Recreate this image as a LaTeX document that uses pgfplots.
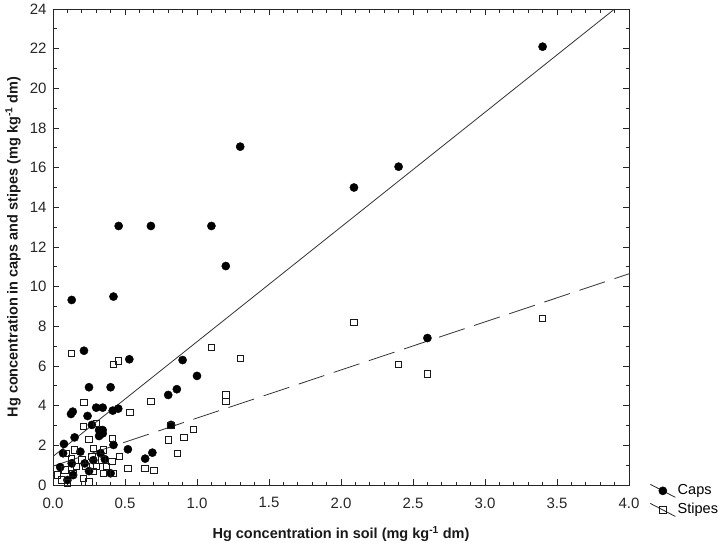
\documentclass[border=0pt]{standalone}
\usepackage{pgfplots}
\pgfplotsset{compat=1.18}
\usepackage{fontspec}
\setmainfont{Liberation Sans}
\begin{document}
\begin{tikzpicture}[x=1pt,y=1pt]
\path[use as bounding box] (-53,-57) rectangle (675,485);
\begin{axis}[
  at={(0,0)}, anchor=south west,
  scale only axis, width=576pt, height=476pt,
  xmin=0, xmax=4, ymin=0, ymax=24,
  xtick={0,0.5,...,4}, ytick={0,2,...,24},
  minor x tick num=4, minor y tick num=1,
  tick align=inside, tick pos=both,
  major tick length=6pt, minor tick length=3.5pt,
  axis line style={line width=0.8pt, black!85},
  tick style={line width=0.7pt, black!85},
  xticklabel style={/pgf/number format/fixed, /pgf/number format/fixed zerofill,
    /pgf/number format/precision=1, yshift=-9pt},
  yticklabel style={xshift=-3pt},
  /pgf/number format/assume math mode=true,
  ticklabel style={font=\fontsize{15}{18}\selectfont, text=black!85},
  xlabel={Hg concentration in soil (mg kg\textsuperscript{-1} dm)},
  ylabel={Hg concentration in caps and stipes (mg kg\textsuperscript{-1} dm)},
  every axis x label/.style={at={(axis description cs:0.5,-0.103)}, anchor=center,
    font=\bfseries\fontsize{14.5}{17}\selectfont, text=black!90},
  every axis y label/.style={at={(axis description cs:-0.0694,0.5)}, rotate=90, anchor=center,
    font=\bfseries\fontsize{14.5}{17}\selectfont, text=black!90},
  legend style={at={(axis description cs:1.036,-0.034)}, anchor=west, draw=none, fill=none,
    font=\fontsize{14.5}{17}\selectfont, inner sep=0pt, row sep=3.7pt,
    nodes={inner sep=2pt, text height=0.75em, text depth=0.25em}},
  legend cell align=left,
  legend image code/.code={%
    \draw[black!85, line width=0.8pt] (0pt,8pt) -- (25pt,-5pt);
    \path[#1] plot coordinates {(12.5pt,1.5pt)};},
  clip=true,
]
\addplot[only marks, mark=*, mark size=4.1pt, black] coordinates {
(3.4,22.1) (2.4,16.05) (2.09,15.0) (1.30,17.06) (0.456,13.06) (0.68,13.06) (1.10,13.06)
(1.20,11.04) (0.42,9.5) (0.13,9.33) (0.215,6.77) (0.53,6.34) (0.90,6.3) (2.60,7.41)
(1.00,5.5) (0.86,4.83) (0.80,4.54) (0.25,4.93) (0.40,4.93) (0.137,3.70) (0.125,3.58)
(0.30,3.90) (0.345,3.90) (0.415,3.75) (0.453,3.85) (0.24,3.48) (0.27,3.03) (0.32,2.77)
(0.345,2.77) (0.32,2.47) (0.345,2.6) (0.15,2.4) (0.076,2.07) (0.42,2.02) (0.52,1.80)
(0.69,1.63) (0.64,1.33) (0.82,3.03) (0.07,1.6) (0.19,1.68) (0.13,1.09) (0.22,1.09)
(0.14,0.5) (0.40,0.59) (0.33,1.6) (0.28,1.25) (0.36,1.3) (0.25,0.7) (0.05,0.9) (0.10,0.25)
};
\addlegendentry{Caps}
\addplot[only marks, mark=square, mark size=3.2pt, mark options={line width=1pt, fill=white}, black!90] coordinates {
(3.4,8.4) (2.09,8.2) (2.40,6.08) (2.60,5.6) (1.10,6.94) (1.30,6.39) (1.20,4.54) (1.20,4.2)
(0.13,6.64) (0.42,6.09) (0.456,6.25) (0.68,4.2) (0.535,3.66) (0.215,4.17) (0.21,2.94)
(0.30,3.11) (0.25,2.3) (0.415,2.35) (0.80,2.27) (0.82,3.0) (0.91,2.4) (0.975,2.81)
(0.865,1.58) (0.52,0.84) (0.64,0.84) (0.70,0.72) (0.46,1.43) (0.42,0.59) (0.35,0.59)
(0.28,0.67) (0.21,0.34) (0.14,0.59) (0.083,0.76) (0.06,0.25) (0.41,1.18) (0.34,1.26)
(0.27,1.43) (0.20,1.26) (0.13,1.35) (0.095,1.6) (0.15,1.76) (0.28,1.85) (0.35,1.76)
(0.30,0.92) (0.23,0.92) (0.165,0.92) (0.37,0.92) (0.03,0.5) (0.10,0.1) (0.25,0.15)
};
\addlegendentry{Stipes}
\addplot[black!80, line width=0.8pt, forget plot] coordinates {(0,1.44) (3.9,24)};
\addplot[black!80, line width=0.8pt, dash pattern=on 27pt off 10pt, forget plot] coordinates {(0,0.95) (4.0,10.65)};
\end{axis}
\end{tikzpicture}
\end{document}
